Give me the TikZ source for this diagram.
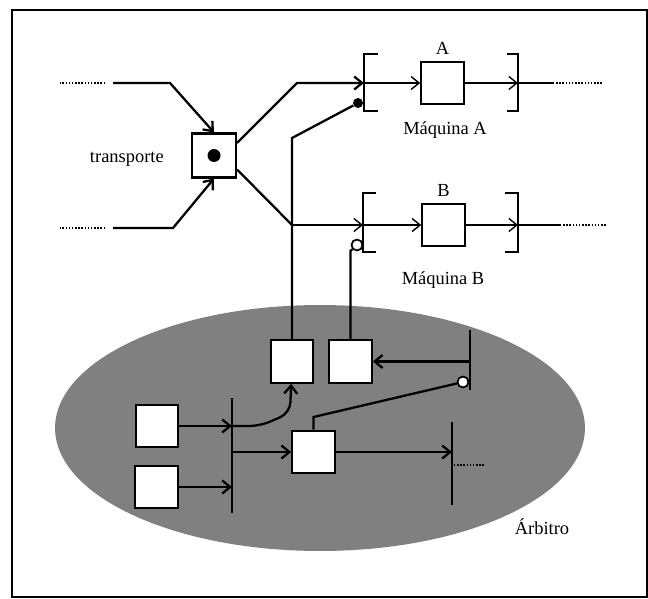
\documentclass[tikz,border=0pt]{standalone}
\usepackage{fontspec}
\setmainfont{Liberation Serif}
\usetikzlibrary{arrows.meta,positioning}
\tikzset{
  ar/.style={-{Straight Barb[length=1.6mm,width=2.6mm]},line width=1.3pt},
  arf/.style={-{Straight Barb[length=1.6mm,width=2.6mm]},line width=0.8pt},
  ln/.style={line width=1.3pt},
  lnf/.style={line width=0.8pt},
  dotln/.style={densely dotted,line width=0.8pt},
  box/.style={draw,line width=1.2pt,fill=white,minimum size=0.85cm,inner sep=0pt},
  brk/.style={line width=1.2pt},
  lbl/.style={font=\fontsize{10.5}{12}\selectfont},
  hole/.style={circle,draw,line width=1pt,fill=white,minimum size=0.22cm,inner sep=0pt},
  knob/.style={circle,fill=black,minimum size=0.2cm,inner sep=0pt}
}
\begin{document}
\begin{tikzpicture}[x=0.02cm,y=-0.02cm]
\useasboundingbox (0,0) rectangle (648,598);
\draw[line width=0.9pt] (12,10) rectangle (647,597);
\fill[black!50] (320,428) ellipse [x radius=5.3cm,y radius=2.46cm];
% transporte
\node[box,minimum size=0.88cm] (tr) at (214,155.5) {};
\node[knob,minimum size=0.26cm] at (tr) {};
\node[lbl,left=0.42cm of tr,yshift=-2pt] (trl) {transporte};
\coordinate (in1) at (113,83);
\coordinate (in2) at (113,228);
\draw[dotln] (in1) ++(-8,0) -- ++(-45,0);
\draw[dotln] (in2) ++(-8,0) -- ++(-45,0);
\draw[ar] (in1) -- (170,83) -- (tr.north);
\draw[ar] (in2) -- (173,228) -- (tr.south);
% maquinas
\coordinate (lA) at (364,83);
\coordinate (rA) at (518,83);
\coordinate (lB) at (363,225);
\coordinate (rB) at (518,225);
\node[box] (mA) at (442.5,83) {};
\node[box] (mB) at (443.5,225) {};
\node[lbl,above=0pt of mA] {A};
\node[lbl,above=0pt of mB] {B};
\node[lbl] (nA) at (445,130) {Máquina A};
\node[lbl] (nB) at (443,280) {Máquina B};
\draw[brk] (lA) ++(14,-29) -- ++(-14,0) -- ++(0,57) -- ++(14,0);
\draw[brk] (rA) ++(-11,-29) -- ++(11,0) -- ++(0,57) -- ++(-11,0);
\draw[brk] (lB) ++(13,-32) -- ++(-13,0) -- ++(0,59) -- ++(13,0);
\draw[brk] (rB) ++(-13,-32) -- ++(13,0) -- ++(0,59) -- ++(-13,0);
\draw[arf] (lA) -- (mA);
\draw[arf] (mA) -- (rA);
\draw[arf] (lB) -- (mB);
\draw[arf] (mB) -- (rB);
\draw[lnf] (rA) -- ++(35,0);
\draw[dotln] (rA) ++(35,0) -- ++(49,0);
\draw[lnf] (rB) -- ++(42,0);
\draw[dotln] (rB) ++(42,0) -- ++(47,0);
\coordinate (jB) at (292,225);
\draw[ar] ([yshift=0.25cm]tr.east) -- (297,83) -- (lA);
\draw[ln] ([yshift=-0.28cm]tr.east) -- (jB);
\draw[arf] (jB) -- (lB);
% arbitro
\node[knob] (dA) at (358,103) {};
\node[hole] (hB) at (357,245) {};
\coordinate (jA) at (292,138);
\node[box] (c1) at (292,361.5) {};
\node[box] (c2) at (350.5,361.5) {};
\draw[ln] (c1) -- (jA) -- (dA);
\draw[ln] (c2) -- (350.5,251) -- (hB);
\node[box] (l1) at (157,426) {};
\node[box] (l2) at (156.5,487) {};
\node[box] (m) at (313.5,452) {};
\coordinate (b1) at (232,398);
\coordinate (b2) at (470,330);
\coordinate (b3) at (452,422);
\draw[ln] (b1) -- ++(0,115);
\draw[ln] (b2) -- ++(0,60);
\draw[ln] (b3) -- ++(0,83);
\draw[ar] (l1) -- (l1 -| b1);
\draw[ar] (l2) -- (l2 -| b1);
\draw[ar] (b1 |- m) -- (m);
\draw[ar,rounded corners=6pt] (l1 -| b1) -- ++(28,0) -- (290,413) -- (c1);
\node[hole] (hC) at (463,382) {};
\draw[ln] (m) -- (313.5,417) -- (hC);
\draw[ar] (b2 |- c2) -- (c2);
\draw[ar] (m) -- (m -| b3);
\draw[dotln] (b3) ++(2,43) -- ++(30,0);
\node[lbl] (arb) at (542,527) {Árbitro};
\end{tikzpicture}
\end{document}
